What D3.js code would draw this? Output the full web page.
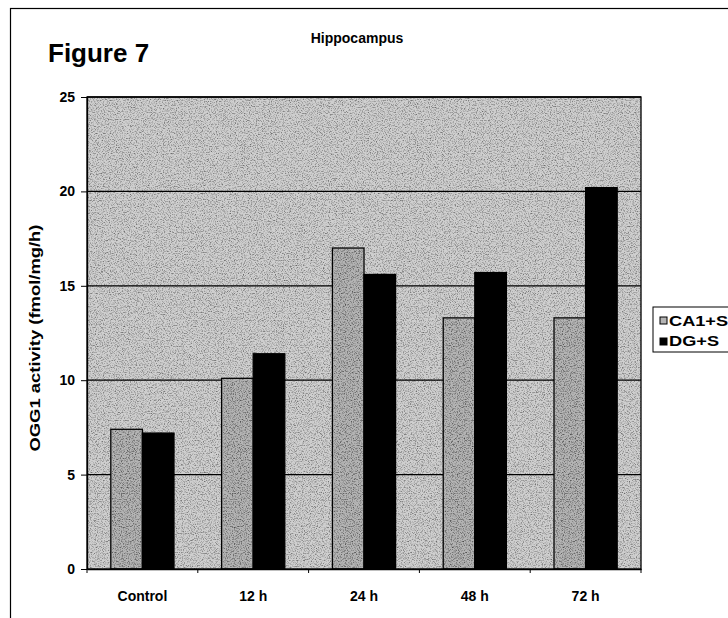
<!DOCTYPE html>
<html>
<head>
<meta charset="utf-8">
<title>Figure 7 - Hippocampus</title>
<script src="https://cdn.jsdelivr.net/npm/d3@7"></script>
<style>
  body { margin: 0; background: #fff; }
  text { font-family: Arial, "Liberation Sans", sans-serif; }
</style>
</head>
<body>
<script>
// data
var categories = ["Control", "12 h", "24 h", "48 h", "72 h"];
var seriesNames = ["CA1+S", "DG+S"];
var ca1Values = [7.4, 10.1, 17.0, 13.3, 13.3];
var dgValues = [7.2, 11.4, 15.6, 15.7, 20.2];
var yTicks = [0, 5, 10, 15, 20, 25];

var W = 728, H = 618;
var margin = {top: 97, right: 87, bottom: 49, left: 87},
    width = W - margin.left - margin.right,
    height = H - margin.top - margin.bottom;

var svg = d3.select("body").append("svg")
    .attr("width", W)
    .attr("height", H);

// grainy photocopy look
var defs = svg.append("defs");
var f = defs.append("filter").attr("id", "grain")
    .attr("x", 0).attr("y", 0).attr("width", 1).attr("height", 1);
f.append("feTurbulence").attr("type", "fractalNoise")
    .attr("baseFrequency", 0.85).attr("numOctaves", 2).attr("seed", 7).attr("result", "n");
f.append("feColorMatrix").attr("type", "matrix")
    .attr("values", "0 0 0 0 0  0 0 0 0 0  0 0 0 0 0  -2.4 0 0 0 1.3")
    .attr("result", "dots");
f.append("feComposite").attr("in", "dots").attr("in2", "SourceGraphic").attr("operator", "in");

// outer frame (runs past the right/bottom edge)
svg.append("rect")
    .attr("x", 10.5).attr("y", 8.5)
    .attr("width", 740).attr("height", 640)
    .attr("fill", "none").attr("stroke", "#000").attr("stroke-width", 1.2);

svg.append("text")
    .attr("x", 48).attr("y", 62)
    .style("font-size", "26px").style("font-weight", "bold")
    .text("Figure 7");

svg.append("text")
    .attr("x", 357).attr("y", 43)
    .attr("text-anchor", "middle")
    .style("font-size", "14px").style("font-weight", "bold")
    .text("Hippocampus");

var g = svg.append("g")
    .attr("transform", "translate(" + margin.left + "," + margin.top + ")");

var x0 = d3.scaleBand().domain(categories).range([0, width]).paddingInner(0.43).paddingOuter(0.215);
var x1 = d3.scaleBand().domain(seriesNames).range([0, x0.bandwidth()]);
var xc = d3.scaleBand().domain(categories).range([0, width]);
var y = d3.scaleLinear().domain([0, 25]).range([height, 0]);

// plot background
g.append("rect")
    .attr("width", width).attr("height", height)
    .attr("fill", "#cfcfcf");
g.append("rect")
    .attr("width", width).attr("height", height)
    .attr("fill", "#000").attr("opacity", 0.5)
    .attr("filter", "url(#grain)");

// gridlines
g.selectAll(".grid").data(yTicks.slice(1))
    .enter().append("line")
    .attr("x1", 0).attr("x2", width)
    .attr("y1", function(d) { return y(d); })
    .attr("y2", function(d) { return y(d); })
    .attr("stroke", "#000").attr("stroke-width", 1.3);

var colors = {"CA1+S": "#b4b4b4", "DG+S": "#000"};
var rows = categories.map(function(c, i) {
    return {cat: c, vals: [{k: "CA1+S", v: ca1Values[i]}, {k: "DG+S", v: dgValues[i]}]};
});

var grp = g.selectAll(".grp").data(rows).enter().append("g")
    .attr("transform", function(d) { return "translate(" + x0(d.cat) + ",0)"; });

grp.selectAll("rect.bar").data(function(d) { return d.vals; })
    .enter().append("rect")
    .attr("class", "bar")
    .attr("x", function(d) { return x1(d.k); })
    .attr("width", x1.bandwidth())
    .attr("y", function(d) { return y(d.v); })
    .attr("height", function(d) { return height - y(d.v); })
    .attr("fill", function(d) { return colors[d.k]; })
    .attr("stroke", "#000").attr("stroke-width", 1.3);

grp.selectAll("rect.tex").data(function(d) { return d.vals.filter(function(v) { return v.k === "CA1+S"; }); })
    .enter().append("rect")
    .attr("class", "tex")
    .attr("x", function(d) { return x1(d.k) + 1; })
    .attr("width", x1.bandwidth() - 2)
    .attr("y", function(d) { return y(d.v) + 1; })
    .attr("height", function(d) { return height - y(d.v) - 2; })
    .attr("fill", "#000").attr("opacity", 0.6)
    .attr("filter", "url(#grain)");

// plot frame
g.append("rect")
    .attr("width", width).attr("height", height)
    .attr("fill", "none").attr("stroke", "#000").attr("stroke-width", 1.3);

// y axis
var yAxis = g.append("g")
    .call(d3.axisLeft(y).tickValues(yTicks).tickSize(6).tickSizeOuter(0));
yAxis.select(".domain").attr("stroke-width", 1.3);
yAxis.selectAll("text").style("font-size", "14px").style("font-weight", "bold").attr("dx", "-3");

// x axis
var xAxis = g.append("g")
    .attr("transform", "translate(0," + height + ")")
    .call(d3.axisBottom(xc).tickSize(0).tickSizeOuter(0));
xAxis.select(".domain").attr("stroke-width", 1.3);
xAxis.selectAll("text").style("font-size", "14px").style("font-weight", "bold")
    .attr("y", 22).attr("dy", "0.71em");
g.append("g").selectAll("line").data(d3.range(categories.length + 1))
    .enter().append("line")
    .attr("x1", function(i) { return i * xc.step(); })
    .attr("x2", function(i) { return i * xc.step(); })
    .attr("y1", height).attr("y2", height + 4)
    .attr("stroke", "#000");

svg.append("text")
    .attr("transform", "translate(40,338) rotate(-90) scale(1.27,1)")
    .attr("text-anchor", "middle")
    .style("font-size", "14.5px").style("font-weight", "bold")
    .text("OGG1 activity (fmol/mg/h)");

// legend
var lg = svg.append("g").attr("transform", "translate(653,307)");
lg.append("rect").attr("width", 90).attr("height", 45)
    .attr("fill", "#fff").attr("stroke", "#000").attr("stroke-width", 1);
seriesNames.forEach(function(s, i) {
    lg.append("rect")
        .attr("x", 7).attr("y", 10 + i * 21)
        .attr("width", 7).attr("height", 7)
        .attr("fill", colors[s]).attr("stroke", "#000");
    lg.append("text")
        .attr("transform", "translate(16," + (18.5 + i * 20.5) + ") scale(1.3,1)")
        .style("font-size", "14px").style("font-weight", "bold")
        .text(s);
});
</script>
</body>
</html>
